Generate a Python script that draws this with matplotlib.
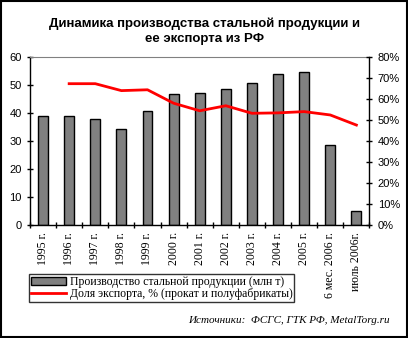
import matplotlib.pyplot as plt
from matplotlib.patches import Rectangle
import numpy as np

years = ['1995 г.', '1996 г.', '1997 г.', '1998 г.', '1999 г.', '2000 г.', '2001 г.',
         '2002 г.', '2003 г.', '2004 г.', '2005 г.', '6 мес. 2006 г.', 'июль 2006г.']
production = [38.8, 38.8, 37.7, 34.2, 40.6, 46.7, 47.0, 48.5, 50.6, 53.8, 54.5, 28.7, 4.9]
# export share, % (no value for 1995)
export_share = [np.nan, 67.3, 67.3, 64.0, 64.4, 58.0, 54.4, 56.8, 53.2, 53.4, 54.0, 52.4, 47.6]

sans = 'Liberation Sans'
serif = 'Liberation Serif'

fig = plt.figure(figsize=(4.08, 3.38), dpi=100)
ax = fig.add_axes([0.0735, 0.3343, 0.832, 0.497])
x = np.arange(len(years))

ax.bar(x, production, width=0.38, color='#808080', edgecolor='black', linewidth=1, zorder=2)
ax.set_xlim(-0.5, len(years) - 0.5)
ax.set_ylim(0, 60)
ax.set_yticks(range(0, 61, 10))
ax.set_xticks(x)
ax.set_xticklabels(years, rotation=90, fontfamily=serif, fontsize=8.5, va='top', ha='center')
ax.set_xticks(np.arange(-0.5, len(years)), minor=True)
ax.tick_params(axis='x', which='major', length=0, pad=5)
ax.tick_params(axis='x', which='minor', length=4, direction='inout', width=1)
ax.tick_params(axis='y', length=5, direction='inout', width=1, labelsize=8)
for lab in ax.get_yticklabels():
    lab.set_fontfamily(sans)
ax.spines['top'].set_color('#808080')
ax.spines['right'].set_visible(False)
for s in ['left', 'bottom']:
    ax.spines[s].set_linewidth(1)

ax2 = ax.twinx()
ax2.plot(x, export_share, color='red', linewidth=2, zorder=3)
ax2.set_ylim(0, 80)
ax2.set_yticks(range(0, 81, 10))
ax2.set_yticklabels([f'{v}%' for v in range(0, 81, 10)], fontfamily=sans, fontsize=8)
ax2.tick_params(axis='y', length=5, direction='inout', width=1)
ax2.spines['top'].set_visible(False)
ax2.spines['left'].set_visible(False)
ax2.spines['bottom'].set_visible(False)
ax2.spines['right'].set_linewidth(1)

fig.text(0.502, 0.908, 'Динамика производства стальной продукции и\nее экспорта из РФ',
         ha='center', va='center', fontfamily=sans, fontweight='bold', fontsize=9.5,
         linespacing=1.3)

h1 = Rectangle((0, 0), 1, 1, facecolor='#808080', edgecolor='black', linewidth=1)
h2 = plt.Line2D([], [], color='red', linewidth=2)
leg = fig.legend([h1, h2], ['Производство стальной продукции (млн т)',
                            'Доля экспорта, % (прокат и полуфабрикаты)'],
                 loc='upper left', bbox_to_anchor=(0.071, 0.188), bbox_transform=fig.transFigure,
                 prop={'family': serif, 'size': 8.5}, frameon=True, fancybox=False,
                 borderpad=0.15, labelspacing=0.0, handlelength=3.0, handleheight=0.6,
                 handletextpad=0.3, borderaxespad=0)
leg.get_frame().set_edgecolor('black')
leg.get_frame().set_linewidth(1)

fig.text(0.956, 0.051, 'Источники:  ФСГС, ГТК РФ, MetalTorg.ru', ha='right', va='center',
         fontfamily=serif, fontstyle='italic', fontsize=8)

fig.patches.append(Rectangle((0.002, 0.003), 0.995, 0.994, transform=fig.transFigure,
                             fill=False, edgecolor='black', linewidth=1.5))

fig.savefig('out.png', dpi=100)
